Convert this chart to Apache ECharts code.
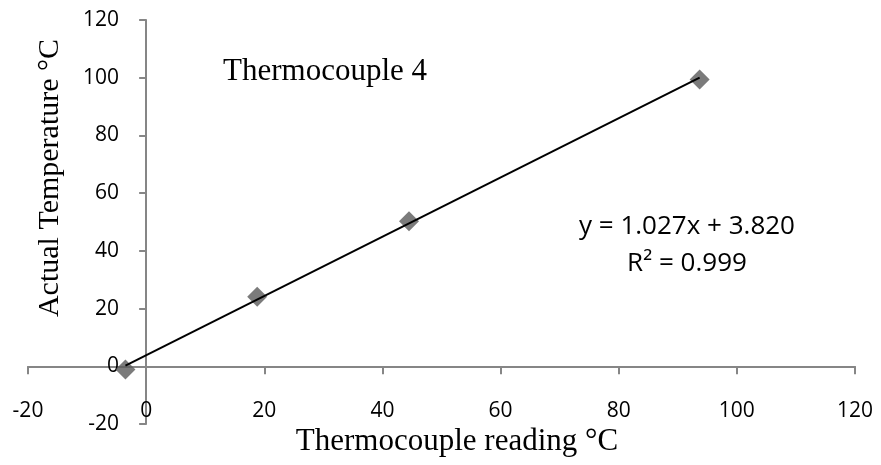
<!DOCTYPE html>
<html>
<head>
<meta charset="utf-8">
<script src="https://cdn.jsdelivr.net/npm/echarts@6/dist/echarts.min.js"></script>
<style>
html,body{margin:0;padding:0;background:#fff;}
#chart{width:881px;height:465px;}
</style>
</head>
<body>
<div id="chart"></div>
<script>
// Data
var readings = [-3.5, 18.8, 44.5, 93.7];      // Thermocouple reading °C
var actual   = [-1.1, 24.1, 50.3, 99.4];      // Actual Temperature °C
var slope = 1.027;
var intercept = 3.820;
var rSquared = 0.999;
var chartLabel = 'Thermocouple 4';
var xTitle = 'Thermocouple reading °C';
var yTitle = 'Actual Temperature °C';

var points = readings.map(function (x, i) { return [x, actual[i]]; });
var xMin = Math.min.apply(null, readings), xMax = Math.max.apply(null, readings);
var trend = [[xMin, slope * xMin + intercept], [xMax, slope * xMax + intercept]];

var axisColor = '#868686';
var tickFont = '"Open Sans", "Liberation Sans", sans-serif';
var serif = '"Liberation Serif", "DejaVu Serif", serif';

var chart = echarts.init(document.getElementById('chart'), null, {renderer: 'canvas'});
chart.setOption({
  animation: false,
  backgroundColor: '#ffffff',
  grid: {left: 28, right: 26, top: 20, bottom: 41, containLabel: false, outerBoundsMode: 'none'},
  xAxis: [{
    type: 'value', min: -20, max: 120, interval: 20, position: 'bottom',
    axisLine: {onZero: true, lineStyle: {color: axisColor, width: 2}},
    axisTick: {show: true, length: 8, lineStyle: {color: axisColor, width: 2}},
    axisLabel: {show: false},
    splitLine: {show: false}
  }, {
    type: 'value', min: -20, max: 120, interval: 20, position: 'bottom', offset: -31,
    axisLine: {show: false, onZero: false},
    axisTick: {show: false},
    axisLabel: {show: true, margin: 8, color: '#000', fontSize: 21, fontFamily: tickFont},
    splitLine: {show: false}
  }],
  yAxis: {
    type: 'value', min: -20, max: 120, interval: 20,
    axisLine: {onZero: true, lineStyle: {color: axisColor, width: 2}},
    axisTick: {show: true, length: 7, lineStyle: {color: axisColor, width: 2}},
    axisLabel: {margin: -91, color: '#000', fontSize: 21, fontFamily: tickFont},
    splitLine: {show: false}
  },
  series: [{
    type: 'scatter', data: points, symbol: 'diamond', symbolSize: 20,
    itemStyle: {color: '#5a5a5a'}, z: 2
  }, {
    type: 'line', data: trend, showSymbol: false, symbol: 'none',
    lineStyle: {color: '#000', width: 2}, z: 3
  }],
  graphic: [{
    type: 'text', x: 223, y: 72,
    style: {text: chartLabel, font: '31px ' + serif, fill: '#000', textAlign: 'left', textVerticalAlign: 'middle'}
  }, {
    type: 'text', x: 687, y: 245,
    style: {text: 'y = ' + slope.toFixed(3) + 'x + ' + intercept.toFixed(3) + '\nR² = ' + rSquared.toFixed(3),
            font: '26px ' + tickFont, lineHeight: 37, fill: '#000', textAlign: 'center', textVerticalAlign: 'middle'}
  }, {
    type: 'text', x: 457, y: 442,
    style: {text: xTitle, font: '31px ' + serif, fill: '#000', textAlign: 'center', textVerticalAlign: 'middle'}
  }, {
    type: 'text', x: 50, y: 178, rotation: Math.PI / 2,
    style: {text: yTitle, font: '30px ' + serif, fill: '#000', textAlign: 'center', textVerticalAlign: 'middle'}
  }]
});
</script>
</body>
</html>
